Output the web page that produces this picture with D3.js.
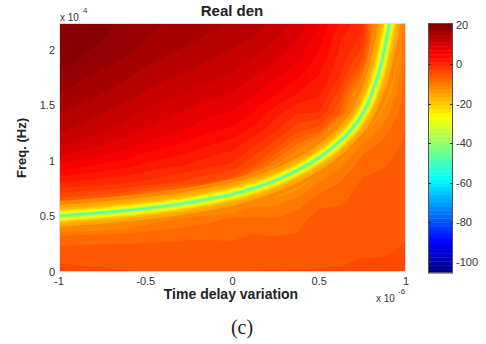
<!DOCTYPE html>
<html><head><meta charset="utf-8">
<script src="https://cdn.jsdelivr.net/npm/d3@7"></script>
<style>body{margin:0;background:#fff}svg{display:block}text{font-family:"Liberation Sans",Arial,sans-serif}</style>
</head><body>
<svg id="c" width="486" height="344"></svg>
<script>
// ---------------- data ----------------
const xGrid = [-1,-0.875,-0.75,-0.625,-0.5,-0.375,-0.25,-0.125,0,0.125,0.25,0.375,0.5,0.625,0.75,0.875,1]; // x 10^-6
const fGrid = [0,0.16,0.32,0.48,0.64,0.8,0.96,1.12,1.28,1.44,1.6,1.76,1.92,2.08,2.24]; // x 10^4 Hz
// dB value per x column, listed from f = 0 (bottom) to f = 2.24 (top)
const dbByColumn = [
 [-4.3,-5.2,-8.5,-18,-6,1,6.5,11,13.5,15.2,17,18.4,19.8,20.8,21],
 [-4.4,-5.3,-7.9,-18,-6.5,0.5,5.6,9.9,12.4,14.2,16,17.4,18.9,19.9,20.4],
 [-4.5,-5.4,-7.8,-17,-7.5,0,4.75,8.75,11.4,13.2,15,16.5,17.9,19,19.5],
 [-4.6,-5.5,-7.6,-15,-9,-0.5,3.9,7.6,10.3,12.1,14,15.5,17,18.1,18.7],
 [-4.7,-5.5,-7.4,-12.5,-12.5,-1.5,2.7,6.2,9,10.8,12.7,14.3,15.7,17,17.6],
 [-4.8,-5.6,-7.2,-11,-15,-2.5,1.8,5.1,7.9,9.8,11.7,13.3,14.8,16.1,16.9],
 [-4.9,-5.7,-7,-10,-18,-3.8,1,4,6.9,8.8,10.8,12.5,14,15.3,16.2],
 [-5,-5.7,-7,-9.2,-18,-5.2,-0.2,2.7,5.6,7.7,9.8,11.6,13.1,14.5,15.6],
 [-5,-5.8,-7,-8.5,-16,-7,-1.2,1.7,4.6,7,9,10.8,12.3,13.7,15],
 [-4.6,-5.6,-6.5,-8.3,-12,-16,-5,-1,2.5,5,7.2,9.2,11,12.6,14.2],
 [-4.6,-5.7,-6.7,-8.6,-11.6,-18,-11,-4.5,-0.5,2.2,5,7.5,9.5,11,12.5],
 [-4.6,-5.6,-6.5,-7.5,-10,-14.5,-20,-10,-4,-0.5,3,5.5,7.5,9,10.4],
 [-4.6,-5.2,-5.5,-5.8,-7.5,-10.5,-15,-17,-6,-0.7,1.5,3,4.5,5.8,7.2],
 [-4.5,-5.2,-5.6,-5.8,-7,-8.5,-11,-19,-20,-7,-4,-1,0.3,1.2,2.5],
 [-4.4,-4.8,-5.2,-5.6,-5.8,-6.3,-7.5,-9.5,-14.5,-20,-18,-10,-4.5,-1.5,0],
 [-4.3,-4.8,-5.2,-5.4,-5.7,-6.2,-6.8,-7.8,-9.5,-12,-15,-18,-22,-22,-22],
 [-4.2,-4.5,-4.8,-5.1,-5.4,-5.7,-6,-6.3,-6.6,-7,-7.3,-7.6,-8,-8.3,-8.5]
];
// notch (minimum) ridge
const notchX = [-1,-0.75,-0.5,-0.25,0,0.125,0.25,0.375,0.5,0.6,0.7,0.75,0.8,0.85,0.9,0.915];
const notchF = [0.504,0.534,0.572,0.625,0.70,0.755,0.825,0.915,1.03,1.15,1.31,1.425,1.59,1.83,2.2,2.34];
const notchLevels = [-12,-15,-18.5,-22,-26,-32,-40,-47]; // dB levels from the rim to the centre of the notch
const xTicks = [-1,-0.5,0,0.5,1];
const xTickLabels = ["-1","-0.5","0","0.5","1"];
const yTicks = [0,0.5,1,1.5,2];
const yTickLabels = ["0","0.5","1","1.5","2"];
const cbTicks = [-100,-80,-60,-40,-20,0,20];
const cRange = [-105.6,21];

// ---------------- drawing ----------------
const svg = d3.select("#c");
const P = {l:59,r:406,t:23,b:272};
const x = d3.scaleLinear().domain([-1,1]).range([P.l,P.r]);
const y = d3.scaleLinear().domain([0,2.24]).range([P.b,P.t]);

const nColors = 64;
const clamp = v => Math.max(0,Math.min(1,v));
const jet = t => d3.rgb(255*clamp(1.5-Math.abs(4*t-3)),255*clamp(1.5-Math.abs(4*t-2)),255*clamp(1.5-Math.abs(4*t-1))).formatHex();
const palette = d3.range(nColors).map(k => jet((k+0.5)/nColors));
const color = d3.scaleQuantize().domain(cRange).range(palette);
const edges = d3.range(nColors+1).map(k => cRange[0] + k*(cRange[1]-cRange[0])/nColors);

svg.append("defs").append("clipPath").attr("id","pc")
  .append("rect").attr("x",P.l).attr("y",P.t).attr("width",P.r-P.l).attr("height",P.b-P.t);

const n = xGrid.length, m = fGrid.length;
const values = new Array(n*m);
for (let j=0;j<m;j++) for (let i=0;i<n;i++) values[j*n+i] = dbByColumn[i][m-1-j];
const dxs = xGrid[1]-xGrid[0], dfs = fGrid[1]-fGrid[0];
const proj = d3.geoTransform({point(u,v){
  this.stream.point(x(xGrid[0]+(u-0.5)*dxs), y(fGrid[m-1]-(v-0.5)*dfs));
}});
const gpath = d3.geoPath(proj);
const bands = d3.contours().size([n,m]).thresholds(edges.slice(0,nColors))(values);

const g = svg.append("g").attr("clip-path","url(#pc)");
g.append("rect").attr("x",P.l).attr("y",P.t).attr("width",P.r-P.l).attr("height",P.b-P.t)
  .attr("fill",color(d3.min(values)));
bands.forEach((b,k) => {
  if (!b.coordinates.length) return;
  g.append("path").attr("d",gpath(b)).attr("fill",palette[k]).attr("stroke",palette[k]).attr("stroke-width",0.3);
});

// notch
const haloWidths = [30,22,16,12,9,6,3.4,1.6];
const line = d3.line().x(d=>x(d[0])).y(d=>y(d[1])).curve(d3.curveCatmullRom.alpha(0.5));
const pts = notchX.map((v,i)=>[v,notchF[i]]);
notchLevels.forEach((lv,i) => {
  g.append("path").attr("d",line(pts)).attr("fill","none")
    .attr("stroke",color(lv)).attr("stroke-width",haloWidths[i]);
});

// frame
svg.append("rect").attr("x",P.l+0.5).attr("y",P.t+0.5).attr("width",P.r-P.l-1).attr("height",P.b-P.t-1)
  .attr("fill","none").attr("stroke","#e2d6d6").attr("stroke-width",1);

// tick labels
svg.selectAll(".xt").data(xTicks).enter().append("text")
  .attr("x",d=>x(d)).attr("y",285).attr("text-anchor","middle")
  .attr("font-size",11).attr("fill","#333").text((d,i)=>xTickLabels[i]);
svg.selectAll(".yt").data(yTicks).enter().append("text")
  .attr("x",55).attr("y",d=>y(d)+4).attr("text-anchor","end")
  .attr("font-size",11).attr("fill","#333").text((d,i)=>yTickLabels[i]);

// exponents
svg.append("text").attr("x",60).attr("y",21).attr("font-size",10).attr("fill","#333").text("x 10");
svg.append("text").attr("x",83).attr("y",13).attr("font-size",8).attr("fill","#333").text("4");
svg.append("text").attr("x",376).attr("y",302).attr("font-size",10).attr("fill","#333").text("x 10");
svg.append("text").attr("x",398).attr("y",294).attr("font-size",8).attr("fill","#333").text("-6");

// titles
svg.append("text").attr("x",232).attr("y",16).attr("text-anchor","middle")
  .attr("font-size",15).attr("font-weight","bold").attr("fill","#222").text("Real den");
svg.append("text").attr("x",231).attr("y",299).attr("text-anchor","middle")
  .attr("font-size",14).attr("font-weight","bold").attr("fill","#222").text("Time delay variation");
svg.append("text").attr("transform","translate(26,148) rotate(-90)").attr("text-anchor","middle")
  .attr("font-size",13).attr("font-weight","bold").attr("fill","#222").text("Freq. (Hz)");
svg.append("text").attr("x",242).attr("y",334).attr("text-anchor","middle")
  .attr("font-size",20).attr("fill","#222").style("font-family","'Liberation Serif','DejaVu Serif',serif").text("(c)");

// colorbar
const CB = {l:428,r:453,t:23,b:273};
const cy = d3.scaleLinear().domain(cRange).range([CB.b,CB.t]);
const cbg = svg.append("g");
palette.forEach((c,k) => {
  cbg.append("rect").attr("x",CB.l).attr("width",CB.r-CB.l)
    .attr("y",cy(edges[k+1])).attr("height",cy(edges[k])-cy(edges[k+1])+0.4).attr("fill",c);
});
cbg.append("rect").attr("x",CB.l+0.5).attr("y",CB.t+0.5).attr("width",CB.r-CB.l-1).attr("height",CB.b-CB.t-1)
  .attr("fill","none").attr("stroke","#555").attr("stroke-width",1);
cbTicks.forEach(v => {
  const yy = Math.round(cy(v))+0.5;
  cbg.append("line").attr("x1",CB.l).attr("x2",CB.l+3).attr("y1",yy).attr("y2",yy).attr("stroke","#333");
  cbg.append("line").attr("x1",CB.r-3).attr("x2",CB.r).attr("y1",yy).attr("y2",yy).attr("stroke","#333");
  cbg.append("text").attr("x",456).attr("y",cy(v)+4).attr("font-size",11).attr("fill","#333").text(v);
});
</script>
</body></html>
